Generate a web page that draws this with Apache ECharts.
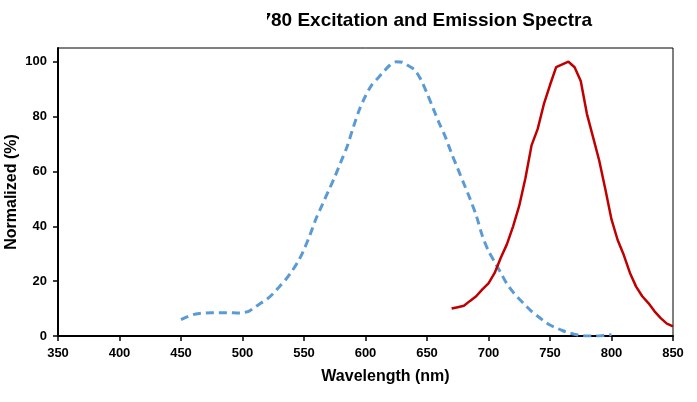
<!DOCTYPE html>
<html>
<head>
<meta charset="utf-8">
<script src="https://cdn.jsdelivr.net/npm/echarts@6/dist/echarts.min.js"></script>
<style>html,body{margin:0;padding:0;background:#fff}#c{width:697px;height:402px}</style>
</head>
<body>
<div id="c"></div>
<script>
const titleText = '780 Excitation and Emission Spectra';
const xName = 'Wavelength (nm)';
const yName = 'Normalized (%)';
const yTicks = [0, 20, 40, 60, 80, 100];

const exWavelengths = [450,455,460,465,470,475,480,485,490,495,500,505,510,515,520,525,530,535,540,545,550,555,560,565,570,575,580,585,590,595,600,605,610,615,620,625,630,635,640,645,650,655,660,665,670,675,680,685,690,695,700,705,710,715,720,725,730,735,740,745,750,755,760,765,770,775,780,785,790,795,800];
const exValues = [6,7,7.8,8.2,8.4,8.5,8.5,8.5,8.5,8.4,8.5,9,10.5,12,13.5,15.5,18,20.5,23.5,27,31.5,37,43,48,53,58,63.5,69,76,82.5,87.5,91.5,94,96.5,98.8,100,99.8,98.5,97,93.5,88.5,83,77.5,72.5,66.5,61,55.5,50,44,36.5,31,27,23,19,16,13.5,11.2,9,7.2,5.5,4,3,2,1.2,0.6,0.2,0,0,0,0.2,0.5];

const emWavelengths = [670,675,680,685,690,695,700,705,710,715,720,725,730,735,740,745,750,755,760,765,770,775,780,785,790,795,800,805,810,815,820,825,830,835,840,845,850];
const emValues = [10,10.5,11,12.8,14.5,17,19.2,23,28.5,33.5,40,47.5,57.5,69.5,75.5,84.5,91.5,98,99,100,98,93,81,72.5,64,53.5,42.5,35,29.5,23,18,14.5,12,9,6.5,4.5,3.5];

const exData = exWavelengths.map((w, i) => [w, exValues[i]]);
const emData = emWavelengths.map((w, i) => [w, emValues[i]]);

const FONT = "'Liberation Sans', Arial, sans-serif";
const chart = echarts.init(document.getElementById('c'), null, {renderer: 'canvas'});
chart.setOption({
  animation: false,
  backgroundColor: '#fff',
  graphic: [
    {type: 'text', right: 697 - 592, top: 11, style: {text: titleText, font: "bold 19px 'Liberation Sans', Arial, sans-serif", fill: '#000'}},
    {type: 'rect', left: 245, top: 5, shape: {width: 22, height: 32}, style: {fill: '#fff'}, z: 100}
  ],
  grid: {left: 58, right: 24, top: 48, bottom: 66, outerBoundsMode: 'none', containLabel: false, show: true, borderColor: '#000', borderWidth: 1, backgroundColor: 'transparent'},
  xAxis: {
    type: 'value', min: 350, max: 850, interval: 50,
    name: xName, nameLocation: 'middle', nameGap: 33,
    nameTextStyle: {fontFamily: FONT, fontWeight: 'bold', fontSize: 16, color: '#000', padding: [0, 0, 0, 40]},
    axisLine: {show: true, onZero: false, lineStyle: {color: '#000', width: 2}},
    axisTick: {show: true, inside: false, length: 5, lineStyle: {color: '#000', width: 1.5}},
    axisLabel: {fontFamily: FONT, fontWeight: 'bold', fontSize: 13, color: '#000', margin: 11},
    splitLine: {show: false}
  },
  yAxis: {
    type: 'value', min: 0, max: 105, interval: 20,
    name: yName, nameLocation: 'middle', nameGap: 38, nameRotate: 90, nameMoveOverlap: false,
    nameTextStyle: {fontFamily: FONT, fontWeight: 'bold', fontSize: 16, color: '#000'},
    axisLine: {show: true, onZero: false, lineStyle: {color: '#000', width: 2}},
    axisTick: {show: true, inside: false, length: 5, customValues: yTicks, lineStyle: {color: '#000', width: 1.5}},
    axisLabel: {fontFamily: FONT, fontWeight: 'bold', fontSize: 13, color: '#000', margin: 11, customValues: yTicks},
    splitLine: {show: false}
  },
  series: [
    {type: 'line', name: 'Excitation', data: exData, smooth: 0.3, showSymbol: false,
     lineStyle: {color: '#5b9bd5', width: 3, type: [8, 5]}},
    {type: 'line', name: 'Emission', data: emData, smooth: false, showSymbol: false,
     lineStyle: {color: '#c00000', width: 2.5}}
  ]
});
</script>
</body>
</html>
